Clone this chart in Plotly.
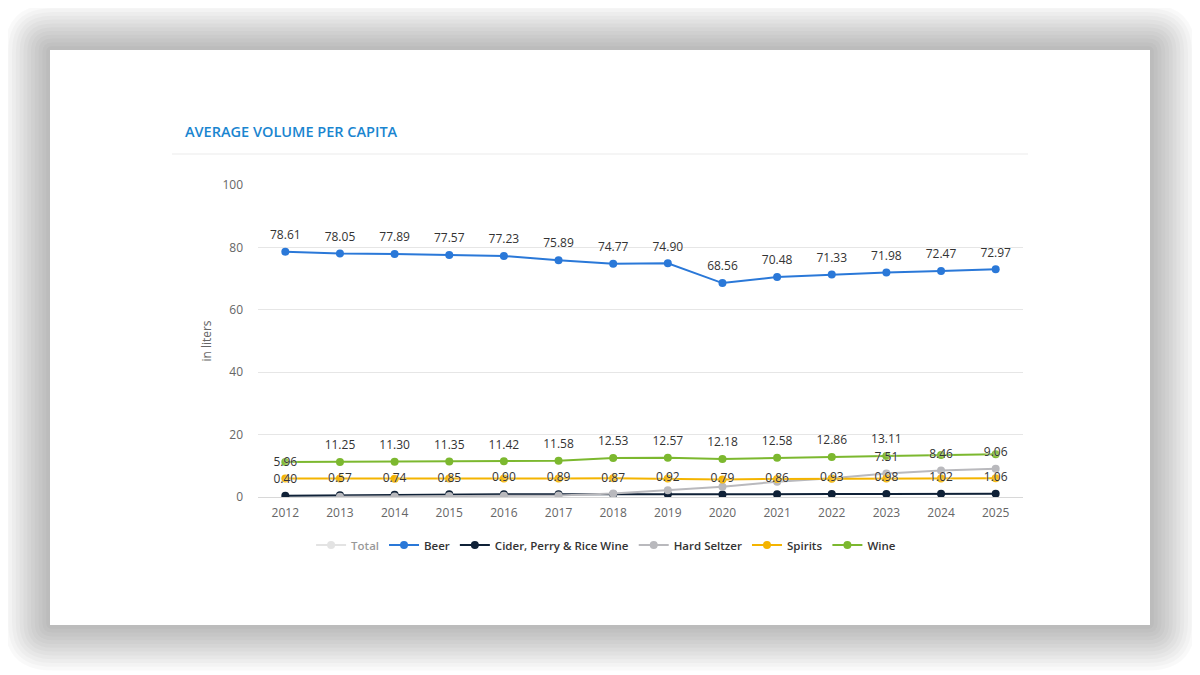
import plotly.graph_objects as go

# data
years = [str(y) for y in range(2012, 2026)]
beer = [78.61, 78.05, 77.89, 77.57, 77.23, 75.89, 74.77, 74.90, 68.56, 70.48, 71.33, 71.98, 72.47, 72.97]
cider = [0.40, 0.57, 0.74, 0.85, 0.90, 0.89, 0.87, 0.92, 0.79, 0.86, 0.93, 0.98, 1.02, 1.06]
seltzer = [None, 0.1, 0.2, 0.3, 0.4, 0.5, 1.1, 2.2, 3.3, 4.9, 6.0, 7.51, 8.46, 9.06]
spirits = [5.96, 5.92, 5.88, 5.90, 5.94, 5.95, 6.00, 5.90, 5.62, 5.80, 5.88, 5.92, 5.96, 6.02]
wine = [11.20, 11.25, 11.30, 11.35, 11.42, 11.58, 12.53, 12.57, 12.18, 12.58, 12.86, 13.11, 13.50, 13.70]
total = [96.17, 96.14, 96.01, 95.97, 95.89, 94.81, 95.27, 96.51, 90.45, 94.62, 96.00, 97.87, 99.87, 101.21]

# which data labels are visible (the rest are hidden by overlap)
beer_lbl = [True] * 14
cider_lbl = [True] * 14
seltzer_lbl = [False] * 11 + [True] * 3
spirits_lbl = [True] + [False] * 13
wine_lbl = [False] + [True] * 11 + [False] * 2

W, H = 1200, 675
OFF = 8  # page body margin
L, R, T, B = 258 - OFF, 1200 - 1023 + OFF, 185 - OFF, 675 - 497 + OFF
pw, ph = W - L - R, H - T - B


def px(x):
    return (x - OFF - L) / pw


def py(y):
    return (H - B - (y - OFF)) / ph


def rrect(x0, y0, x1, y1, r):
    # rounded rectangle path in paper coords, given screen pixels
    a, b, c, d = px(x0), px(x1), py(y0), py(y1)
    rx, ry = r / pw, r / ph
    return (f"M {a+rx},{c} L {b-rx},{c} Q {b},{c} {b},{c-ry} "
            f"L {b},{d+ry} Q {b},{d} {b-rx},{d} L {a+rx},{d} "
            f"Q {a},{d} {a},{d+ry} L {a},{c-ry} Q {a},{c} {a+rx},{c} Z")


fig = go.Figure()

series = [
    ("Beer", beer, "#2a78d8", beer_lbl),
    ("Cider, Perry & Rice Wine", cider, "#0f2137", cider_lbl),
    ("Hard Seltzer", seltzer, "#b9b9bd", seltzer_lbl),
    ("Spirits", spirits, "#f4b400", spirits_lbl),
    ("Wine", wine, "#7cb82f", wine_lbl),
]

fig.add_trace(go.Scatter(x=years, y=total, name="Total", mode="lines+markers",
                         visible="legendonly", line=dict(color="#c8c8c8", width=2),
                         marker=dict(size=8)))
for name, vals, col, _ in series:
    fig.add_trace(go.Scatter(x=years, y=vals, name=name, mode="lines+markers",
                             line=dict(color=col, width=2), marker=dict(size=8, color=col),
                             hoverinfo="x+y+name"))

# labels on top of all lines
for name, vals, col, show in series:
    txt = [f"{v:.2f}" if (s and v is not None) else "" for v, s in zip(vals, show)]
    fig.add_trace(go.Scatter(x=years, y=vals, mode="markers+text", text=txt,
                             textposition="top center",
                             marker=dict(size=14, opacity=0),
                             textfont=dict(family="Open Sans", size=12, color="#333333",
                                           shadow="0 0 2px white"),
                             showlegend=False, hoverinfo="skip"))

shapes = []
# card shadow
for i in range(12, 0, -1):
    e = i * 3.8
    shapes.append(dict(type="path", path=rrect(50 - e, 50 - e, 1150 + e, 625 + e, e + 2),
                       xref="paper", yref="paper", fillcolor="rgba(0,0,0,0.022)",
                       line=dict(width=0), layer="below"))
shapes.append(dict(type="rect", x0=px(50), x1=px(1150), y0=py(50), y1=py(625),
                   xref="paper", yref="paper", fillcolor="white", line=dict(width=0),
                   layer="below"))
shapes.append(dict(type="line", x0=px(172), x1=px(1028), y0=py(154), y1=py(154),
                   xref="paper", yref="paper", line=dict(color="#ebebeb", width=1),
                   layer="below"))

fig.update_layout(
    width=W, height=H,
    margin=dict(l=L, r=R, t=T, b=B),
    paper_bgcolor="white", plot_bgcolor="rgba(0,0,0,0)",
    shapes=shapes,
    title=dict(text="AVERAGE VOLUME PER CAPITA", xref="container", yref="container",
               x=(185 - OFF) / W, xanchor="left", y=1 - (132 - OFF) / H, yanchor="middle",
               font=dict(family="Open Sans", size=14.5, color="#1a85d0", weight=600)),
    xaxis=dict(type="category", range=[-0.5, 13.5], showgrid=False, zeroline=False,
               showline=True, linecolor="#d8d8d8", ticks="", ticklen=0,
               ticklabelstandoff=5,
               tickfont=dict(family="Open Sans", size=12, color="#666666")),
    yaxis=dict(range=[0, 100], tickvals=[0, 20, 40, 60, 80, 100], showgrid=True,
               gridcolor="#e6e6e6", zeroline=False, ticklabelstandoff=14,
               tickfont=dict(family="Open Sans", size=12, color="#666666"),
               title=dict(text="in liters", standoff=8,
                          font=dict(family="Open Sans", size=12, color="#666666"))),
    legend=dict(orientation="h", x=0.455, xanchor="center", y=py(545), yanchor="middle",
                font=dict(family="Open Sans", size=11.5, color="#333333", weight=600),
                itemwidth=30, tracegroupgap=0),
    showlegend=True,
)

fig.write_html("out.html")
